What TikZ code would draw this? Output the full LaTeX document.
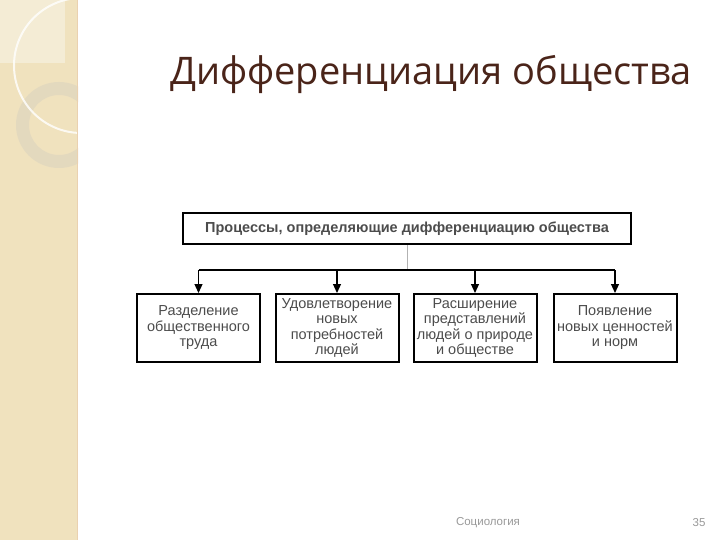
\documentclass[tikz,border=0pt]{standalone}
\usepackage{fontspec}
\setmainfont{Liberation Sans}
\newfontfamily\titlefont{Open Sans}
\usetikzlibrary{arrows.meta,calc}
\definecolor{SideClr}{rgb}{0.941,0.886,0.745}
\definecolor{PaleClr}{rgb}{0.957,0.925,0.835}
\definecolor{RingClr}{rgb}{0.878,0.843,0.749}
\definecolor{EdgeClr}{rgb}{0.918,0.82,0.69}
\definecolor{TitleClr}{rgb}{0.29,0.14,0.1}
\definecolor{TextClr}{rgb}{0.3,0.3,0.3}
\definecolor{FootClr}{rgb}{0.6,0.6,0.6}

\begin{document}
\begin{tikzpicture}[x=1pt,y=-1pt,
  topbox/.style={draw=black,line width=2pt,minimum width=448pt,minimum height=31pt,
    inner sep=0pt,font=\fontsize{14.5}{16}\selectfont\bfseries,text=TextClr},
  procbox/.style={draw=black,line width=2pt,minimum width=123pt,minimum height=68pt,
    inner sep=0pt,align=center,font=\fontsize{14.5}{15.5}\selectfont,text=TextClr},
  link/.style={line width=1.2pt,black},
  arrow/.style={link,-{Triangle[length=9pt,width=8pt]}}]
\useasboundingbox (0,0) rectangle (720,540);
\fill[white] (0,0) rectangle (720,540);

% Side strip with its rings.
\fill[SideClr] (0,0) rectangle (78,540);
\fill[PaleClr] (0,0) rectangle (65,63);
\begin{scope}
  \clip (0,0) rectangle (78,540);
  \fill[RingClr,even odd rule,opacity=.8] (59,125) circle (43) (59,125) circle (30);
  \draw[white,line width=2pt,opacity=.8] (81.5,65.5) circle (67.5);
\end{scope}
\draw[EdgeClr,line width=1.5pt] (77.5,0) -- (77.5,540);

\node[anchor=base west,inner sep=0pt,text=TitleClr,font=\titlefont\fontsize{38}{44}\selectfont]
  (title) at (170,85) {Дифференциация общества};

\node[topbox] (top) at (407,228.5) {Процессы, определяющие дифференциацию общества};

\node[procbox] (b1) at (198.5,328) {Разделение\\общественного\\труда};
\node[procbox] (b2) at (337,328) {Удовлетворение\\новых\\потребностей\\людей};
\node[procbox] (b3) at (475,328) {Расширение\\представлений\\людей о природе\\и обществе};
\node[procbox] (b4) at (615,328) {Появление\\новых ценностей\\и норм};

\coordinate (bus) at (0,270);
\draw[gray!60,line width=1pt] (top.south) -- (top.south |- bus);
\draw[link] (b1.north |- bus) -- (b4.north |- bus);
\foreach \b in {b1,b2,b3,b4}
  \draw[arrow] (\b.north |- bus) -- (\b.north);

\node[text=FootClr,font=\fontsize{11.5}{13}\selectfont] (foot) at (488,523) {Социология};
\node[text=FootClr,font=\fontsize{11.5}{13}\selectfont] (page) at (699,523) {35};
\end{tikzpicture}
\end{document}
